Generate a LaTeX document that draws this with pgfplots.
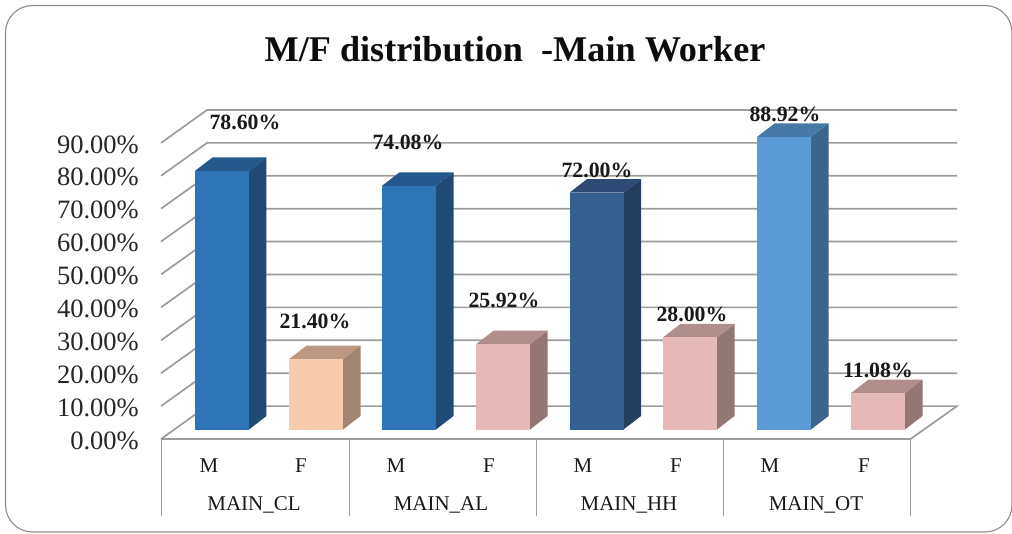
\documentclass[border=0pt]{standalone}
\usepackage{pgfplots}
\usepackage{fontspec}
\setmainfont{Liberation Serif}
\pgfplotsset{compat=1.18}
\definecolor{gridc}{HTML}{9C9C9C}
\definecolor{mf}{HTML}{2E75B6}\definecolor{ms}{HTML}{1E4A75}\definecolor{mt}{HTML}{25588C}
\definecolor{pf}{HTML}{F8CBAD}\definecolor{ps}{HTML}{A08570}\definecolor{pt}{HTML}{BC9880}
\definecolor{rf}{HTML}{E6B8B7}\definecolor{rs}{HTML}{947674}\definecolor{rt}{HTML}{B08E8C}
\definecolor{hf}{HTML}{335F91}\definecolor{hs}{HTML}{233E5F}\definecolor{ht}{HTML}{2C4A75}
\definecolor{of}{HTML}{5B9BD5}\definecolor{os}{HTML}{3A658C}\definecolor{ot}{HTML}{4679A8}
% x centre, value, front, side, top
\newcommand{\tdbar}[5]{%
  \pgfmathsetmacro\xa{#1-27}\pgfmathsetmacro\xb{#1+27}\pgfmathsetmacro\xc{#1+44.5}%
  \pgfmathsetmacro\xd{#1-9.5}\pgfmathsetmacro\yc{#2+4.1}%
  \addplot[fill=#4,draw=none,no markers,forget plot,yshift=9.5pt] coordinates {(\xb,0)(\xc,4.1)(\xc,\yc)(\xb,#2)};
  \addplot[fill=#5,draw=none,no markers,forget plot,yshift=9.5pt] coordinates {(\xa,#2)(\xb,#2)(\xc,\yc)(\xd,\yc)};
  \addplot[ybar,bar width=54,bar shift=0pt,fill=#3,draw=none,forget plot,yshift=9.5pt] coordinates {(#1,#2)};
}
\newcommand{\vlab}[3]{\node[font=\fontsize{21.8}{24}\selectfont\bfseries,inner sep=0pt,text=black!90] at (axis cs:#1,#2) {#3};}
\begin{document}
\begin{tikzpicture}
\useasboundingbox (-161pt,-94pt) rectangle (851pt,439pt);
\draw[color=black!45,line width=1.1pt,rounded corners=27pt] (-155.5pt,-93pt) rectangle (851pt,433.5pt);
\begin{axis}[
  scale only axis,width=796pt,height=329pt,
  xmin=161,xmax=957,ymin=0,ymax=100,clip=false,
  axis line style={draw=none},
  major tick length=0pt,
  ytick={0,10,...,90},
  yticklabels={0.00\%,10.00\%,20.00\%,30.00\%,40.00\%,50.00\%,60.00\%,70.00\%,80.00\%,90.00\%},
  yticklabel style={font=\fontsize{26.5}{30}\selectfont,text=black!85,inner sep=0pt,xshift=-22pt,yshift=-1.5pt},
  xtick={209,301,396,489,583,676,770,864},
  xticklabels={M,F,M,F,M,F,M,F},
  xticklabel style={font=\fontsize{21}{24}\selectfont,text=black!90,inner sep=0pt,anchor=center,yshift=-27pt},
]
% walls and floor
\pgfplotsinvokeforeach{10,20,...,90}{
  \pgfmathsetmacro\yw{#1+10}
  \addplot[gridc,line width=1.7pt,no markers,forget plot] coordinates {(161,#1)(207,\yw)(957,\yw)};
}
\addplot[gridc,line width=1.7pt,no markers,forget plot] coordinates {(161,0)(207,10)(957,10)(910.5,0)(161,0)};
% category separators
\pgfplotsinvokeforeach{162,349,536,723,910}{
  \addplot[gridc,line width=1pt,no markers,forget plot] coordinates {(#1,0)(#1,-23.5)};
}
% bars
\tdbar{222}{78.60}{mf}{ms}{mt}
\tdbar{316}{21.40}{pf}{ps}{pt}
\tdbar{409}{74.08}{mf}{ms}{mt}
\tdbar{503}{25.92}{rf}{rs}{rt}
\tdbar{596.5}{72.00}{hf}{hs}{ht}
\tdbar{690}{28.00}{rf}{rs}{rt}
\tdbar{784}{88.92}{of}{os}{ot}
\tdbar{878}{11.08}{rf}{rs}{rt}
% value labels
\vlab{245}{96.1}{78.60\%}
\vlab{408}{90.3}{74.08\%}
\vlab{597}{81.6}{72.00\%}
\vlab{785}{98.8}{88.92\%}
\vlab{315}{35.6}{21.40\%}
\vlab{504}{42.0}{25.92\%}
\vlab{692}{38.0}{28.00\%}
\vlab{878}{20.9}{11.08\%}
% group names
\node[font=\fontsize{21}{24}\selectfont,inner sep=0pt,text=black!90] at (axis cs:254,-20) {MAIN\_CL};
\node[font=\fontsize{21}{24}\selectfont,inner sep=0pt,text=black!90] at (axis cs:441,-20) {MAIN\_AL};
\node[font=\fontsize{21}{24}\selectfont,inner sep=0pt,text=black!90] at (axis cs:629,-20) {MAIN\_HH};
\node[font=\fontsize{21}{24}\selectfont,inner sep=0pt,text=black!90] at (axis cs:816,-20) {MAIN\_OT};
% title
\node[font=\fontsize{36.2}{40}\selectfont\bfseries,inner sep=0pt,text=black!95] at (axis cs:515,118.6) {M/F distribution\ \ -Main Worker};
\end{axis}
\end{tikzpicture}
\end{document}
